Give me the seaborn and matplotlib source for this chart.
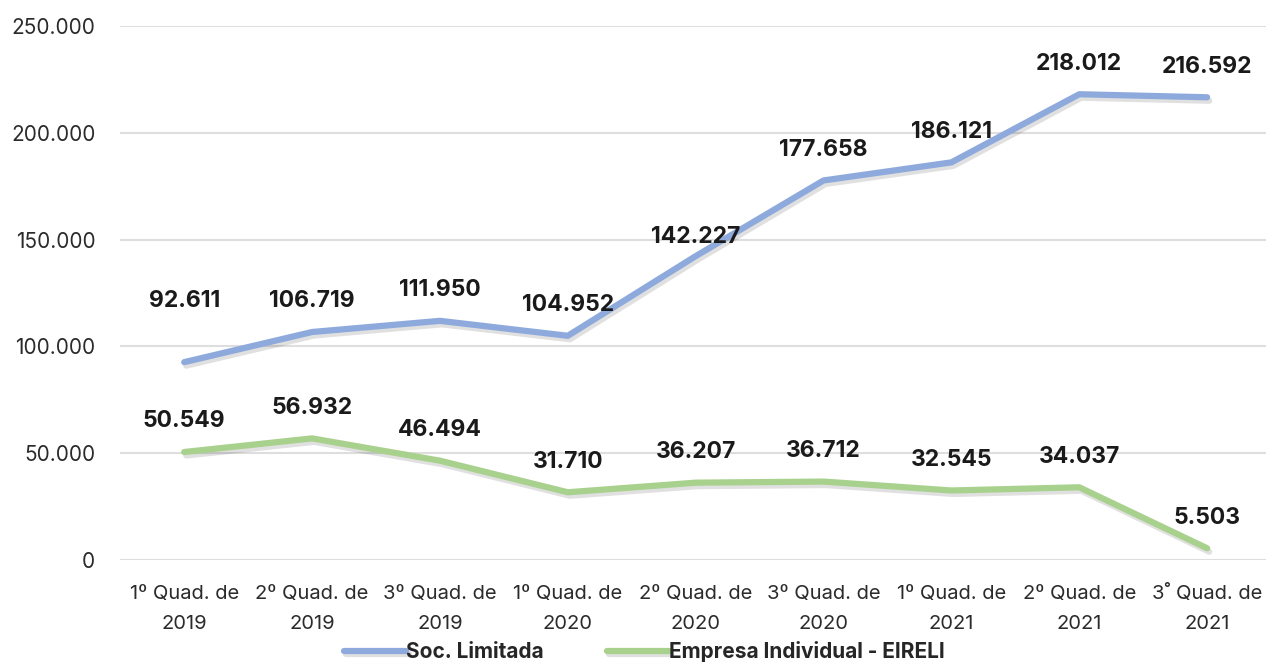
"""
Empresas abertas por quadrimestre - Soc. Limitada x EIRELI
"""

import pandas as pd
import seaborn as sns
import matplotlib.pyplot as plt
import matplotlib.patheffects as pe
from matplotlib.ticker import FuncFormatter

# Dados
quadrimestres = [
    "1º Quad. de\n2019", "2º Quad. de\n2019", "3º Quad. de\n2019",
    "1º Quad. de\n2020", "2º Quad. de\n2020", "3º Quad. de\n2020",
    "1º Quad. de\n2021", "2º Quad. de\n2021", "3˚ Quad. de\n2021",
]
soc_limitada = [92611, 106719, 111950, 104952, 142227, 177658, 186121, 218012, 216592]
eireli = [50549, 56932, 46494, 31710, 36207, 36712, 32545, 34037, 5503]
series = ["Soc. Limitada", "Empresa Individual - EIRELI"]
cores = ["#8eaadc", "#a9d18e"]


def fmt_br(v):
    # separador de milhar com ponto
    return f"{int(v):,}".replace(",", ".")


df = pd.DataFrame({
    "quad": quadrimestres * 2,
    "x": list(range(len(quadrimestres))) * 2,
    "valor": soc_limitada + eireli,
    "serie": [series[0]] * len(soc_limitada) + [series[1]] * len(eireli),
})

sns.set_theme(style="white")
plt.rcParams["font.family"] = ["Inter", "DejaVu Sans"]

fig, ax = plt.subplots(figsize=(12.66, 6.64), dpi=100)
fig.subplots_adjust(left=0.095, right=1.004, top=0.961, bottom=0.1566)

sns.lineplot(
    data=df, x="x", y="valor", hue="serie", palette=cores,
    linewidth=4.5, ax=ax, sort=False,
)
for ln in ax.lines:
    ln.set_solid_capstyle("round")
    ln.set_solid_joinstyle("round")
    ln.set_path_effects([
        pe.SimpleLineShadow(offset=(1.5, -2.5), alpha=0.12, shadow_color="black"),
        pe.Normal(),
    ])

# rótulos de dados
for vals in (soc_limitada, eireli):
    for i, v in enumerate(vals):
        dy = 22
        if vals is soc_limitada and i == 0:
            dy = 44
        if vals is soc_limitada and i == 4:
            dy = 14
        ax.annotate(fmt_br(v), (i, v), xytext=(0, dy), textcoords="offset points",
                    ha="center", va="center", fontsize=16.5, fontweight="bold",
                    color="#1a1a1a")

ax.set_xlim(-0.5, len(quadrimestres) - 0.5)
ax.set_ylim(0, 250000)
ax.set_yticks(range(0, 250001, 50000))
ax.yaxis.set_major_formatter(FuncFormatter(lambda v, p: fmt_br(v)))
ax.set_xticks(range(len(quadrimestres)))
ax.set_xticklabels(quadrimestres, fontsize=14.5, color="#2b2b2b", linespacing=1.85)
ax.tick_params(axis="y", labelsize=15, labelcolor="#2b2b2b", length=0, pad=18)
ax.tick_params(axis="x", length=0, pad=18)
ax.grid(axis="y", color="#dedede", linewidth=1.5)
ax.set_xlabel("")
ax.set_ylabel("")
for s in ax.spines.values():
    s.set_visible(False)

handles, labels = ax.get_legend_handles_labels()
ax.get_legend().remove()
leg = fig.legend(
    handles, labels, loc="center", bbox_to_anchor=(0.509, 0.019), ncol=2,
    frameon=False, handlelength=3.0, handletextpad=0.0, columnspacing=3.0,
    prop={"size": 15, "weight": "bold"},
)
for h in leg.get_lines():
    h.set_linewidth(4.5)
    h.set_solid_capstyle("round")

plt.savefig("out.png", dpi=100)
